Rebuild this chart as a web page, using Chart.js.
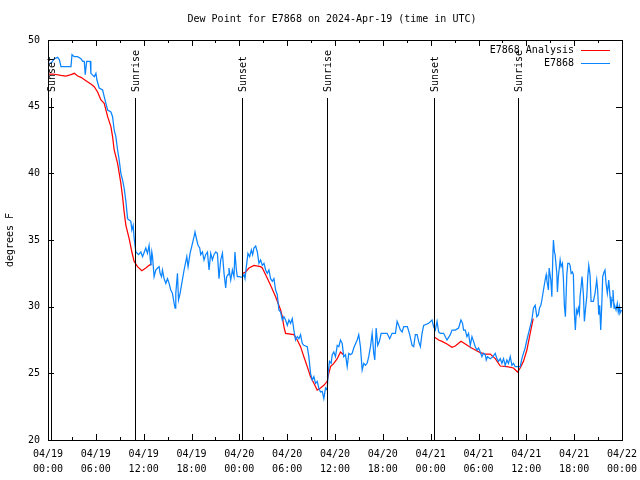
<!DOCTYPE html>
<html lang="en">
<head>
    <meta charset="UTF-8">
    <title>Dew Point for E7868</title>
    <style>
        body { margin: 0; background: #fff; }
        #chart { display: block; }
    </style>
    <script src="https://cdn.jsdelivr.net/npm/chart.js"></script>
</head>
<body>
<canvas id="chart" width="640" height="480"></canvas>
<script>
    const chartTitle = 'Dew Point for E7868 on 2024-Apr-19 (time in UTC)';
    const yTitle = 'degrees F';

    // x axis is hours since 04/19 00:00 UTC
    const xTickLabels = [
        ['04/19', '00:00'], ['04/19', '06:00'], ['04/19', '12:00'], ['04/19', '18:00'],
        ['04/20', '00:00'], ['04/20', '06:00'], ['04/20', '12:00'], ['04/20', '18:00'],
        ['04/21', '00:00'], ['04/21', '06:00'], ['04/21', '12:00'], ['04/21', '18:00'],
        ['04/22', '00:00']
    ];

    const sunHours = [0.35, 10.96, 24.37, 35.0, 48.4, 58.9];
    const sunLabels = ['Sunset', 'Sunrise', 'Sunset', 'Sunrise', 'Sunset', 'Sunrise'];

    const seriesNames = ['E7868 Analysis', 'E7868'];

    // analysis (red), null = gap
    const analysisHours = [
        0.1, 0.59, 1.63, 2.25, 2.88, 3.3, 3.72, 4.13, 4.76, 5.38, 5.8, 6.22, 6.64, 7.05, 7.48,
        7.89, 8.1, 8.3, 8.73, 9.14, 9.35, 9.55, 9.77, 10.18, 10.52, 10.8, 11.23, 11.77, 12.27,
        12.68, 13.0,
        18.0,
        24.42, 24.79, 25.21, 25.83, 26.67, 26.88, 27.3, 27.92, 28.55, 29.18, 29.39, 29.59, 29.8,
        30.84, 31.27, 31.68, 32.09, 32.52, 32.93, 33.35, 33.77, 34.18, 34.6, 35.02, 35.22, 35.44,
        35.85, 36.28, 36.69, 37.06,
        42.0,
        48.5, 49.0, 49.42, 50.05, 50.68, 51.09, 51.8, 52.34, 52.97, 53.59, 54.22, 54.85, 55.47,
        56.1, 56.73, 57.56, 58.39, 58.89, 59.23, 59.64, 60.07, 60.48, 60.86
    ];
    const analysisTemps = [
        47.45, 47.45, 47.35, 47.3, 47.4, 47.5, 47.3, 47.2, 46.95, 46.7, 46.5, 46.1, 45.5, 45.25, 44.25,
        43.5, 42.75, 41.75, 40.75, 39.25, 38.25, 37.1, 36.1, 35.1, 34.1, 33.4, 33.0, 32.7, 32.9,
        33.1, 33.2,
        null,
        32.5, 32.6, 32.9, 33.1, 33.0, 32.9, 32.4, 31.6, 30.75, 29.75, 29.25, 28.5, 28.0,
        27.9, 27.5, 27.0, 26.25, 25.5, 24.75, 24.25, 23.75, 23.9, 24.1, 24.4, 25.0, 25.5,
        25.75, 26.1, 26.6, 26.4,
        null,
        27.7, 27.5, 27.4, 27.2, 26.95, 27.05, 27.4, 27.2, 26.95, 26.75, 26.55, 26.45, 26.45,
        26.1, 25.55, 25.5, 25.4, 25.1, 25.4, 25.9, 26.75, 28.0, 29.1
    ];

    // station observations (blue)
    const obsHours = [
        0.16, 0.38, 0.79, 1.21, 1.44, 1.63, 2.88, 3.01, 3.29, 3.72, 4.13, 4.35, 4.55, 4.67, 4.85,
        5.3, 5.38, 5.8, 6.01, 6.14, 6.42, 6.85, 7.05, 7.26, 7.48, 7.89, 8.1, 8.3, 8.51, 8.73,
        8.93, 9.14, 9.35, 9.55, 9.77, 9.98, 10.18, 10.39, 10.52, 10.68, 10.81, 11.02, 11.36, 11.65,
        11.86, 12.27, 12.48, 12.68, 12.9, 13.02, 13.11, 13.31, 13.52, 13.74, 13.94, 14.06, 14.24,
        14.36, 14.56, 14.78, 14.99, 15.19, 15.4, 15.61, 15.82, 15.94, 16.03, 16.24, 16.37, 16.57,
        16.78, 17.07, 17.41, 17.57, 17.82, 18.12, 18.32, 18.44, 18.66, 18.82, 19.03, 19.16, 19.37,
        19.57, 19.78, 20.0, 20.2, 20.41, 20.62, 20.82, 21.04, 21.25, 21.45, 21.66, 21.88, 22.08,
        22.29, 22.41, 22.58, 22.7, 22.92, 23.13, 23.33, 23.45, 23.63, 23.75, 23.95, 24.38, 24.58,
        24.71, 24.88, 25.08, 25.29, 25.51, 25.67, 25.83, 26.05, 26.26, 26.46, 26.67, 26.88, 27.09,
        27.3, 27.51, 27.71, 27.92, 28.14, 28.34, 28.55, 28.76, 28.96, 29.18, 29.39, 29.59, 29.8,
        30.02, 30.22, 30.43, 30.64, 30.84, 31.05, 31.27, 31.47, 31.68, 31.89, 32.09, 32.52, 32.72,
        32.93, 33.15, 33.35, 33.56, 33.77, 33.97, 34.18, 34.4, 34.6, 34.81, 35.02, 35.15, 35.31,
        35.52, 35.65, 35.85, 36.06, 36.28, 36.48, 36.69, 36.9, 37.1, 37.32, 37.53, 37.73, 37.94,
        38.15, 38.35, 38.78, 38.98, 39.19, 39.41, 39.61, 39.82, 40.03, 40.23, 40.45, 40.66, 40.86,
        40.99, 41.16, 41.36, 41.57, 41.79, 42.11, 42.54, 42.86, 43.16, 43.58, 43.79, 43.99, 44.2,
        44.42, 44.62, 45.08, 45.37, 45.67, 45.87, 46.08, 46.3, 46.49, 46.71, 46.92, 47.12, 47.75,
        48.17, 48.37, 48.58, 48.8, 49.0, 49.21, 49.62, 50.05, 50.46, 50.68, 51.09, 51.5, 51.8,
        52.0, 52.13, 52.34, 52.55, 52.75, 52.97, 53.18, 53.38, 53.59, 53.81, 54.01, 54.22, 54.43,
        54.63, 54.85, 54.97, 55.13, 55.47, 55.81, 56.1, 56.31, 56.51, 56.73, 56.94, 57.14, 57.35,
        57.56, 57.76, 57.98, 58.19, 58.39, 58.6, 59.02, 59.23, 59.44, 59.64, 59.85, 60.07, 60.27,
        60.48, 60.69, 60.9, 61.11, 61.32, 61.52, 61.65, 61.82, 61.95, 62.15, 62.36, 62.49, 62.57,
        62.77, 62.86, 63.07, 63.2, 63.32, 63.4, 63.52, 63.61, 63.82, 63.9, 64.02, 64.15, 64.24,
        64.36, 64.53, 64.65, 64.78, 64.9, 65.08, 65.2, 65.37, 65.49, 65.62, 65.78, 65.9, 66.03,
        66.15, 66.28, 66.4, 66.53, 66.65, 66.74, 66.87, 66.99, 67.16, 67.28, 67.41, 67.58, 67.71,
        67.83, 67.99, 68.12, 68.28, 68.41, 68.62, 68.83, 68.95, 69.08, 69.2, 69.33, 69.45, 69.58,
        69.75, 69.87, 70.0, 70.16, 70.34, 70.5, 70.62, 70.75, 70.87, 71.0, 71.12, 71.25, 71.41,
        71.53, 71.66, 71.74, 71.95
    ];
    const obsTemps = [
        48.25, 48.25, 48.6, 48.7, 48.5, 48.0, 48.0, 48.9, 48.75, 48.75, 48.6, 48.4, 48.4, 47.4, 48.4,
        48.4, 47.5, 47.25, 47.5, 47.0, 46.4, 46.25, 45.75, 45.25, 44.75, 44.6, 44.25, 43.25, 42.75, 41.75,
        41.0, 40.0, 39.5, 38.9, 37.9, 36.6, 36.5, 36.4, 35.75, 36.1, 35.1, 34.1, 33.9, 34.1,
        33.75, 34.4, 34.0, 34.6, 33.1, 34.1, 33.75, 32.25, 32.75, 32.9, 33.0, 32.5, 32.25,
        32.75, 32.1, 31.75, 32.1, 31.75, 31.25, 31.0, 30.25, 29.9, 31.0, 32.5, 30.5, 31.0,
        31.75, 32.75, 33.75, 33.0, 34.0, 34.75, 35.25, 35.6, 35.0, 34.6, 34.4, 33.9, 34.1,
        33.5, 33.9, 34.1, 32.75, 34.0, 33.5, 33.9, 34.1, 34.0, 32.1, 33.5, 34.0, 32.5,
        31.4, 32.25, 32.4, 32.9, 32.0, 32.75, 32.25, 34.1, 32.75, 32.25, 32.25, 32.2, 32.4,
        32.1, 33.0, 34.0, 33.75, 34.25, 33.9, 34.4, 34.55, 34.1, 33.25, 33.5, 33.1, 33.25,
        32.75, 32.5, 32.75, 32.1, 31.9, 32.1, 31.25, 30.9, 29.75, 29.6, 29.0, 29.25, 29.0,
        28.6, 29.0, 28.75, 29.1, 28.25, 27.5, 27.75, 27.6, 27.9, 27.25, 27.1, 27.0, 26.25,
        25.0, 24.5, 24.75, 24.25, 24.4, 23.9, 23.6, 23.65, 23.1, 23.9, 23.75, 25.1, 25.9,
        25.75, 26.4, 26.6, 26.25, 27.1, 27.0, 27.5, 27.25, 26.25, 26.4, 25.5, 26.5, 26.4,
        26.5, 26.9, 27.5, 27.9, 27.0, 25.25, 25.75, 25.6, 25.75, 26.25, 27.0, 28.0, 26.5,
        26.0, 28.4, 27.1, 27.4, 28.0, 28.0, 28.0, 27.6, 28.0, 28.0, 28.9, 28.6, 28.25,
        28.1, 28.5, 28.5, 27.9, 27.1, 27.0, 27.9, 27.9, 27.4, 27.0, 28.0, 28.6, 28.75,
        29.0, 28.5, 28.25, 28.9, 28.1, 28.0, 28.0, 27.5, 27.9, 28.25, 28.25, 28.4, 29.0,
        28.75, 28.25, 28.25, 27.75, 28.0, 27.1, 27.75, 27.4, 27.0, 26.75, 26.9, 26.6, 26.25,
        26.5, 26.4, 26.0, 26.25, 26.1, 26.25, 26.5, 26.1, 25.9, 26.1, 25.75, 26.1, 25.6,
        26.0, 25.75, 26.25, 25.6, 25.75, 25.5, 25.5, 25.5, 26.1, 26.5, 26.9, 27.5, 28.0,
        28.5, 29.0, 29.9, 30.1, 29.25, 29.4, 29.9, 30.1, 30.5, 31.25, 32.0, 32.4, 32.0,
        31.25, 32.9, 32.0, 30.75, 33.75, 35.0, 34.1, 33.9, 32.5, 31.1, 32.25, 33.0, 33.5,
        33.0, 33.25, 32.1, 30.0, 29.25, 32.4, 33.25, 33.25, 33.1, 32.5, 32.6, 32.4, 29.5,
        28.25, 29.75, 29.5, 29.9, 29.5, 30.75, 31.5, 32.25, 30.9, 28.9, 29.75, 30.75, 32.25,
        33.1, 32.4, 30.4, 30.4, 30.4, 31.0, 32.0, 31.25, 29.4, 30.1, 28.25, 29.9, 32.25,
        32.6, 32.75, 31.75, 31.0, 32.0, 30.75, 29.9, 30.5, 31.25, 29.9, 30.0, 29.75, 30.25,
        29.6, 30.0, 29.5, 29.75
    ];

    const redColor = '#ff0000';
    const blueColor = '#0a84ff';

    Chart.defaults.font.family = "'DejaVu Sans Mono', monospace";
    Chart.defaults.font.size = 10;
    Chart.defaults.color = '#000';

    function toPoints(hours, temps) {
        return hours.map((h, i) => ({ x: h, y: temps[i] }));
    }

    // gnuplot-like frame: box, inward ticks, sun markers, legend, title
    const framePlugin = {
        id: 'frame',
        afterDatasetsDraw(chart) {
            const ctx = chart.ctx;
            const a = chart.chartArea;
            const xs = chart.scales.x;
            const ys = chart.scales.y;
            ctx.save();
            ctx.strokeStyle = '#000';
            ctx.fillStyle = '#000';
            ctx.lineWidth = 1;
            ctx.font = "10px 'DejaVu Sans Mono', monospace";

            // sunrise / sunset lines
            sunHours.forEach((h, i) => {
                const px = Math.round(xs.getPixelForValue(h)) + 0.5;
                ctx.beginPath();
                ctx.moveTo(px, a.top + 58);
                ctx.lineTo(px, a.bottom);
                ctx.stroke();
                ctx.save();
                ctx.translate(px + 1, a.top + 52);
                ctx.rotate(-Math.PI / 2);
                ctx.textAlign = 'left';
                ctx.textBaseline = 'middle';
                ctx.fillText(sunLabels[i], 0, 0);
                ctx.restore();
            });

            // border
            ctx.strokeRect(a.left + 0.5, a.top + 0.5, a.right - a.left, a.bottom - a.top);

            // ticks pointing inward
            ctx.beginPath();
            for (let h = 0; h <= 72; h += 3) {
                const px = Math.round(xs.getPixelForValue(h)) + 0.5;
                const len = h % 6 === 0 ? 6 : 3;
                ctx.moveTo(px, a.bottom);
                ctx.lineTo(px, a.bottom - len);
                ctx.moveTo(px, a.top);
                ctx.lineTo(px, a.top + len);
            }
            for (let v = 20; v <= 50; v += 5) {
                const py = Math.round(ys.getPixelForValue(v)) + 0.5;
                ctx.moveTo(a.left, py);
                ctx.lineTo(a.left + 6, py);
                ctx.moveTo(a.right, py);
                ctx.lineTo(a.right - 6, py);
            }
            ctx.stroke();

            // legend, top right inside plot
            const colors = [redColor, blueColor];
            seriesNames.forEach((name, i) => {
                const ly = a.top + 10 + i * 13;
                ctx.textAlign = 'right';
                ctx.textBaseline = 'middle';
                ctx.fillStyle = '#000';
                ctx.fillText(name, a.right - 48, ly);
                ctx.strokeStyle = colors[i];
                ctx.beginPath();
                ctx.moveTo(a.right - 41, ly + 0.5);
                ctx.lineTo(a.right - 12, ly + 0.5);
                ctx.stroke();
            });

            // title centred over the plot
            ctx.fillStyle = '#000';
            ctx.textAlign = 'center';
            ctx.textBaseline = 'middle';
            ctx.fillText(chartTitle, (a.left + a.right) / 2 - 3, 19);

            ctx.restore();
        }
    };

    new Chart(document.getElementById('chart'), {
        type: 'line',
        data: {
            datasets: [
                {
                    label: seriesNames[1],
                    data: toPoints(obsHours, obsTemps),
                    borderColor: blueColor,
                    borderWidth: 1.25,
                    pointRadius: 0,
                    tension: 0,
                    order: 0
                },
                {
                    label: seriesNames[0],
                    data: toPoints(analysisHours, analysisTemps),
                    borderColor: redColor,
                    borderWidth: 1.25,
                    pointRadius: 0,
                    tension: 0,
                    spanGaps: false,
                    order: 1
                }
            ]
        },
        options: {
            responsive: false,
            animation: false,
            layout: { padding: { left: 0, right: 18, top: 40, bottom: 0 } },
            plugins: {
                legend: { display: false },
                title: { display: false },
                tooltip: { enabled: false }
            },
            scales: {
                x: {
                    type: 'linear',
                    min: 0,
                    max: 72,
                    grid: { display: false, drawTicks: false },
                    border: { display: false },
                    ticks: {
                        stepSize: 6,
                        autoSkip: false,
                        maxRotation: 0,
                        padding: 7,
                        font: { size: 10, lineHeight: 1.5 },
                        callback: v => xTickLabels[v / 6] || ''
                    },
                    afterFit: s => {
                        s.height = 40;
                        s.paddingLeft = 0;
                        s.paddingRight = 0;
                    }
                },
                y: {
                    min: 20,
                    max: 50,
                    grid: { display: false, drawTicks: false },
                    border: { display: false },
                    ticks: { stepSize: 5, padding: 8 },
                    title: {
                        display: true,
                        text: yTitle,
                        padding: { top: 4, bottom: 0 },
                        font: { size: 10 }
                    },
                    afterFit: s => { s.width = 48; }
                }
            }
        },
        plugins: [framePlugin]
    });
</script>
</body>
</html>
